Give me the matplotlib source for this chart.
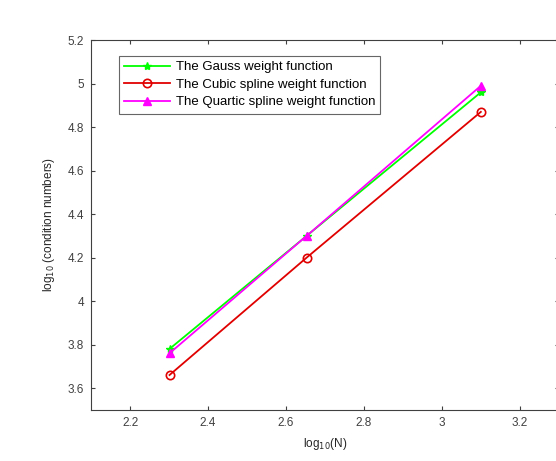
import matplotlib
matplotlib.use("Agg")
import matplotlib.pyplot as plt

plt.rcParams['font.family'] = ['Liberation Sans', 'DejaVu Sans']

x = [2.301, 2.653, 3.100]
gauss = [3.78, 4.30, 4.96]
cubic = [3.66, 4.20, 4.87]
quartic = [3.76, 4.30, 4.99]
labels = ["The Gauss weight function", "The Cubic spline weight function",
          "The Quartic spline weight function"]
xticks = [2.2, 2.4, 2.6, 2.8, 3.0, 3.2]
xticklabels = ["2.2", "2.4", "2.6", "2.8", "3", "3.2"]
yticks = [3.6, 3.8, 4.0, 4.2, 4.4, 4.6, 4.8, 5.0, 5.2]
yticklabels = ["3.6", "3.8", "4", "4.2", "4.4", "4.6", "4.8", "5", "5.2"]

fig = plt.figure(figsize=(5.56, 4.61), dpi=100)
ax = fig.add_axes([0.164, 0.111, 0.841, 0.802])

ax.plot(x, gauss, color='#00ff00', marker='*', markersize=6, linewidth=1.3, label=labels[0])
ax.plot(x, cubic, color='#e00000', marker='o', markersize=6, markerfacecolor='none',
        markeredgewidth=1.2, linewidth=1.3, label=labels[1])
ax.plot(x, quartic, color='#ff00ff', marker='^', markersize=6, markerfacecolor='#ff00ff',
        linewidth=1.3, label=labels[2])

ax.set_xlim(2.1, 3.3)
ax.set_ylim(3.5, 5.2)
ax.set_xticks(xticks)
ax.set_xticklabels(xticklabels)
ax.set_yticks(yticks)
ax.set_yticklabels(yticklabels)
ax.tick_params(direction='in', length=3, labelsize=8.5, colors='#404040', top=True, right=True,
               pad=5)
for s in ax.spines.values():
    s.set_color('#404040')
    s.set_linewidth(0.8)

ax.set_xlabel(r'log$_{10}$(N)', fontsize=8.5, color='#262626', labelpad=5)
ax.set_ylabel(r'log$_{10}$ (condition numbers)', fontsize=8.5, color='#262626', labelpad=8)

leg = ax.legend(loc='upper left', bbox_to_anchor=(0.045, 0.975), fontsize=9.5,
                frameon=True, fancybox=False, edgecolor='#404040', borderpad=0.4,
                handlelength=3.5, labelspacing=0.4, handletextpad=0.4)
leg.get_frame().set_linewidth(0.8)

fig.savefig("out.png", dpi=100)
